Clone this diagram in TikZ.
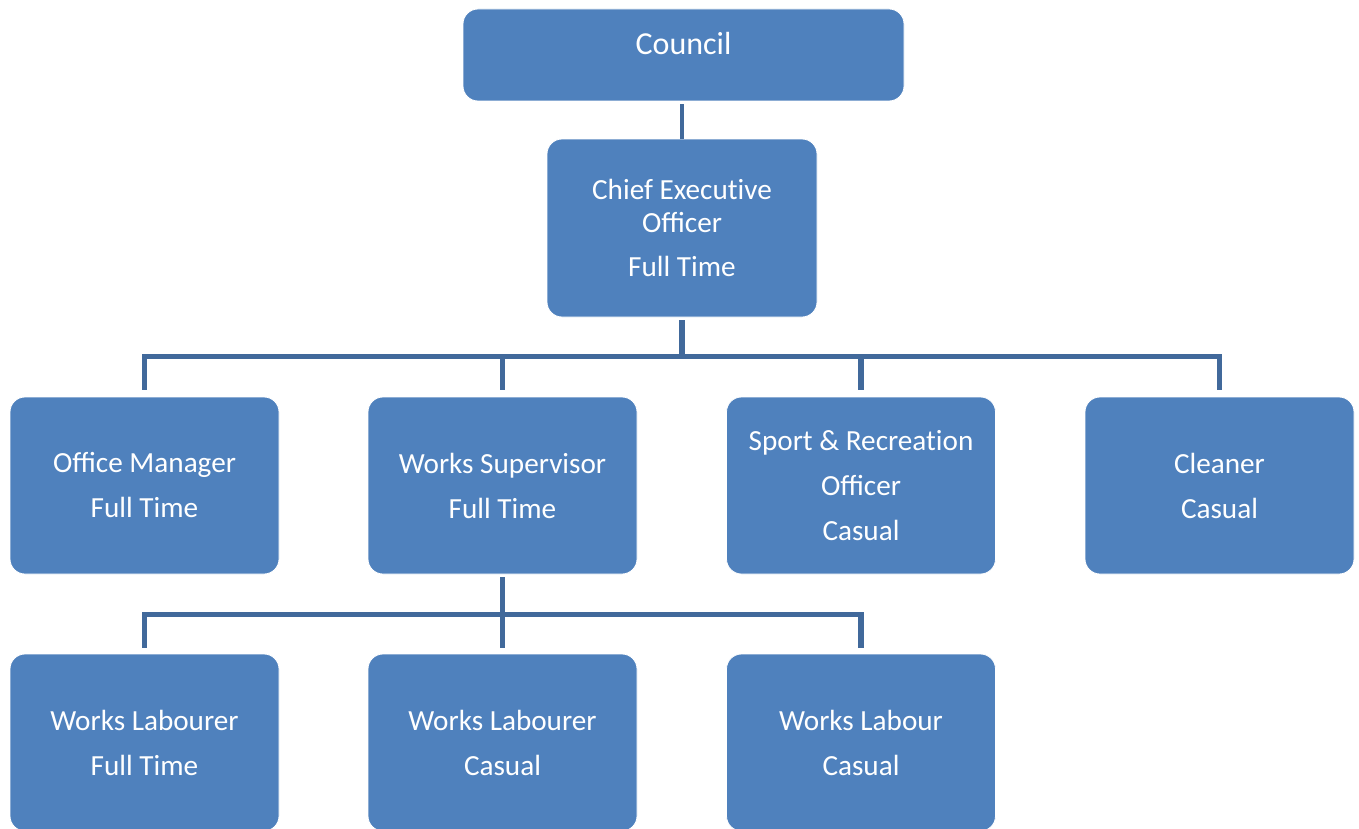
\documentclass[tikz,border=0pt]{standalone}
\usepackage{fontspec}
\setmainfont{Carlito}
\definecolor{boxblue}{HTML}{4F81BD}
\definecolor{lineblue}{HTML}{41699B}
\begin{document}
\begin{tikzpicture}[x=0.5pt,y=-0.5pt,
  orgbox/.style={rectangle, rounded corners=7.5pt, fill=boxblue, draw=white, line width=0.4pt,
    minimum width=134.5pt, minimum height=88.5pt, inner sep=0pt, text=white, align=center,
    font=\fontsize{14.6pt}{16.5pt}\selectfont},
  conn/.style={draw=lineblue, line width=2.6pt, line join=miter},
  connthin/.style={draw=lineblue, line width=2pt},
  lbl/.style={text=white, inner sep=0pt, font=\fontsize{16pt}{18pt}\selectfont}]
\useasboundingbox (0,0) rectangle (1359,829);
% boxes
\node[orgbox, minimum width=220.5pt, minimum height=46pt] (council) at (683.5,55) {};
\node[lbl] (counciltext) at (683.5,44) {Council};
\node[orgbox, minimum width=135pt, minimum height=89pt] (ceo) at (682,228) {Chief Execut\kern0pt ive\\Officer\\[5.5pt]Full Time};
\node[orgbox] (om) at (144.5,485.5) {Office Manager\\[6pt]Full Time};
\node[orgbox] (ws) at (502.5,485.5) {Works Supervisor\\[6pt]Full Time};
\node[orgbox] (sr) at (861,485.5) {Sport \& Recreat\kern0pt ion\\[6pt]Officer\\[6pt]Casual};
\node[orgbox] (cl) at (1219.5,485.5) {Cleaner\\[6pt]Casual};
\node[orgbox] (wl1) at (144.5,742.5) {Works Labourer\\[6pt]Full Time};
\node[orgbox] (wl2) at (502.5,742.5) {Works Labourer\\[6pt]Casual};
\node[orgbox] (wl3) at (861,742.5) {Works Labour\\[6pt]Casual};
% bus coordinates
\coordinate (bus1) at (682,356.5);
\coordinate (bus2) at (502.5,614.5);
% connectors
\draw[connthin, shorten <=1.5pt] (ceo.north |- council.south) -- (ceo.north);
\draw[conn, shorten <=1.5pt] (ceo.south) -- (ceo.south |- bus1);
\foreach \c in {om,ws,sr,cl}
  \draw[conn, shorten >=3.5pt] (ceo.south |- bus1) -| (\c.north);
\draw[conn, shorten <=1.5pt] (ws.south) -- (ws.south |- bus2);
\foreach \c in {wl1,wl2,wl3}
  \draw[conn, shorten >=3pt] (ws.south |- bus2) -| (\c.north);
\end{tikzpicture}
\end{document}
